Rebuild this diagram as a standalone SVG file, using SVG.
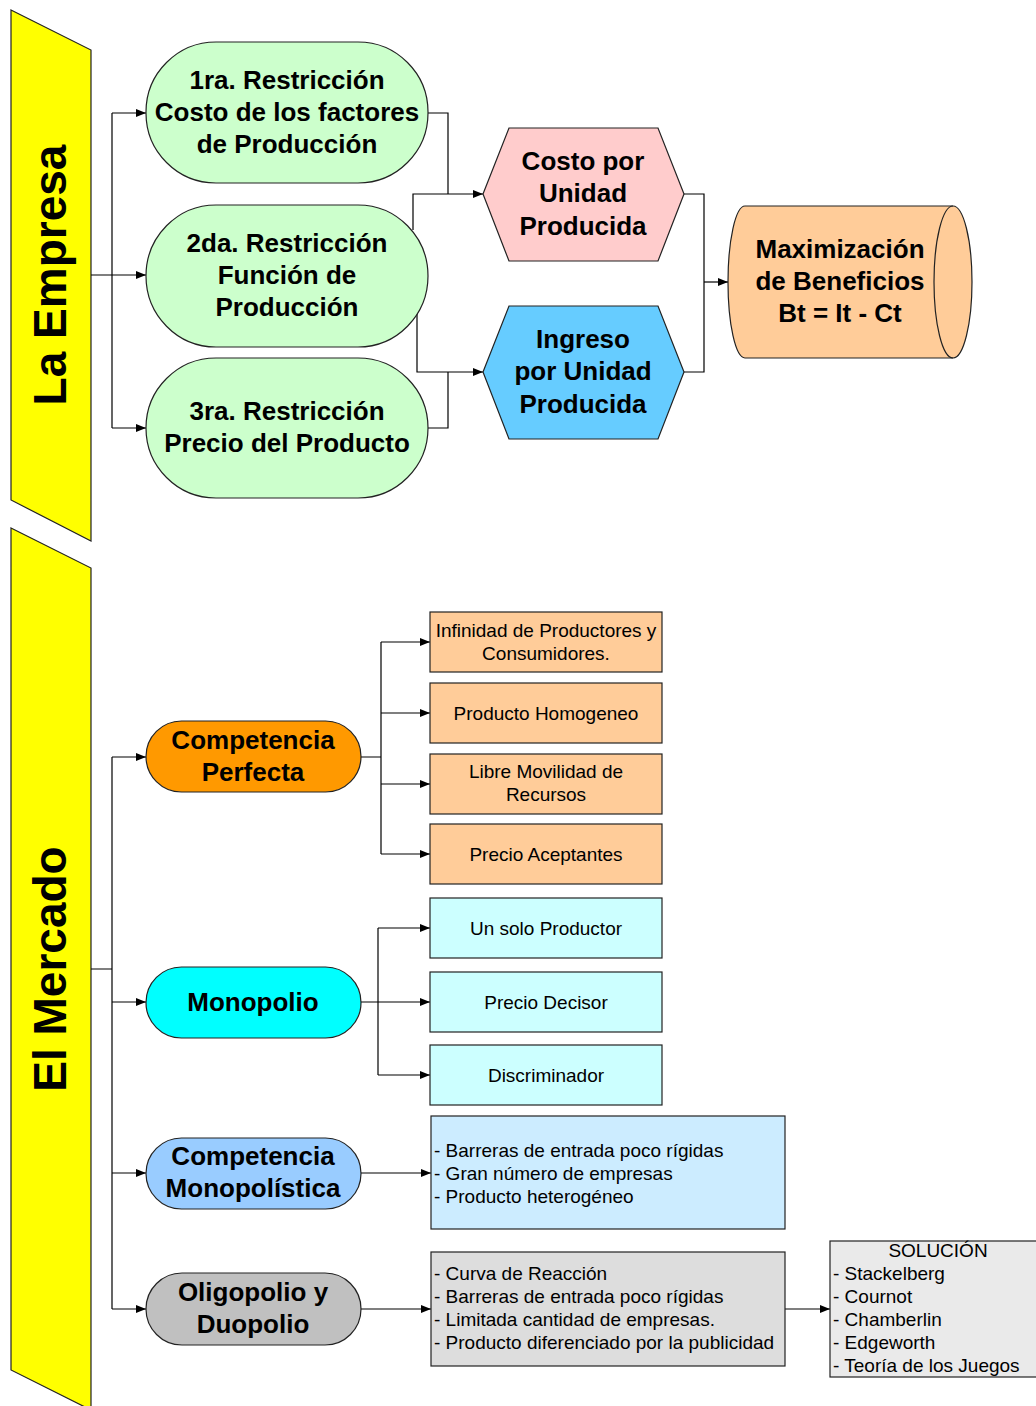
<svg xmlns="http://www.w3.org/2000/svg" width="1036" height="1406" viewBox="0 0 1036 1406">
<defs>
<marker id="arr" viewBox="0 0 10 10" refX="10" refY="5" markerWidth="10" markerHeight="10" markerUnits="userSpaceOnUse" orient="auto">
<path d="M0,1 L10,5 L0,9 Z" fill="#000"/>
</marker>
</defs>
<style>
.sh{stroke:#222;stroke-width:1.2}
.big{font-family:"Liberation Sans",Arial,sans-serif;font-weight:bold;font-size:26px;text-anchor:middle;fill:#000}
.ban{font-family:"Liberation Sans",Arial,sans-serif;font-weight:bold;font-size:46px;text-anchor:middle;fill:#000}
.sm{font-family:"Liberation Sans",Arial,sans-serif;font-size:19px;fill:#000}
.c{text-anchor:middle}
.ln{fill:none;stroke:#000;stroke-width:1.2}
</style>
<rect width="1036" height="1406" fill="#fff"/>

<g id="banner-empresa">
<polygon class="sh" points="11,10 91,50 91,541 11,500" fill="#FFFF00"/>
<text class="ban" transform="translate(50,275) rotate(-90)" x="0" y="16">La Empresa</text>
</g>
<g id="banner-mercado">
<polygon class="sh" points="11,528 91,568 91,1410 11,1370" fill="#FFFF00"/>
<text class="ban" transform="translate(50,969) rotate(-90)" x="0" y="16">El Mercado</text>
</g>

<g id="connectors">
<path class="ln" d="M91,275 H112 M112,113 V428"/>
<path class="ln" d="M112,113 H146" marker-end="url(#arr)"/>
<path class="ln" d="M112,275 H146" marker-end="url(#arr)"/>
<path class="ln" d="M112,428 H146" marker-end="url(#arr)"/>
<path class="ln" d="M428,113 H448 V194"/>
<path class="ln" d="M413,230 V194 H483" marker-end="url(#arr)"/>
<path class="ln" d="M428,428 H448 V372"/>
<path class="ln" d="M417,313 V372 H483" marker-end="url(#arr)"/>
<path class="ln" d="M684,194 H704 V372 H684"/>
<path class="ln" d="M704,282 H728" marker-end="url(#arr)"/>

<path class="ln" d="M91,969 H112 M112,757 V1309"/>
<path class="ln" d="M112,757 H146" marker-end="url(#arr)"/>
<path class="ln" d="M112,1002 H146" marker-end="url(#arr)"/>
<path class="ln" d="M112,1173 H146" marker-end="url(#arr)"/>
<path class="ln" d="M112,1309 H146" marker-end="url(#arr)"/>

<path class="ln" d="M361,757 H381 M381,642 V854"/>
<path class="ln" d="M381,642 H430" marker-end="url(#arr)"/>
<path class="ln" d="M381,713 H430" marker-end="url(#arr)"/>
<path class="ln" d="M381,784 H430" marker-end="url(#arr)"/>
<path class="ln" d="M381,854 H430" marker-end="url(#arr)"/>

<path class="ln" d="M378,928 V1075"/>
<path class="ln" d="M378,928 H430" marker-end="url(#arr)"/>
<path class="ln" d="M361,1002 H430" marker-end="url(#arr)"/>
<path class="ln" d="M378,1075 H430" marker-end="url(#arr)"/>

<path class="ln" d="M361,1173 H431" marker-end="url(#arr)"/>
<path class="ln" d="M361,1309 H431" marker-end="url(#arr)"/>
<path class="ln" d="M785,1309 H830" marker-end="url(#arr)"/>
</g>

<g id="restriccion1">
<rect class="sh" x="146" y="42" width="282" height="141" rx="70" ry="70" fill="#CCFFCC"/>
<text class="big" x="287" y="89">1ra. Restricción</text>
<text class="big" x="287" y="121">Costo de los factores</text>
<text class="big" x="287" y="153">de Producción</text>
</g>
<g id="restriccion2">
<rect class="sh" x="146" y="205" width="282" height="142" rx="70" ry="71" fill="#CCFFCC"/>
<text class="big" x="287" y="252">2da. Restricción</text>
<text class="big" x="287" y="284">Función de</text>
<text class="big" x="287" y="316">Producción</text>
</g>
<g id="restriccion3">
<rect class="sh" x="146" y="358" width="282" height="140" rx="70" ry="70" fill="#CCFFCC"/>
<text class="big" x="287" y="420">3ra. Restricción</text>
<text class="big" x="287" y="452">Precio del Producto</text>
</g>

<g id="costo-unidad">
<polygon class="sh" points="483,194 509,128 658,128 684,194 658,261 509,261" fill="#FFCCCC"/>
<text class="big" x="583" y="170">Costo por</text>
<text class="big" x="583" y="202">Unidad</text>
<text class="big" x="583" y="235">Producida</text>
</g>
<g id="ingreso-unidad">
<polygon class="sh" points="483,372 509,306 658,306 684,372 658,439 509,439" fill="#66CCFF"/>
<text class="big" x="583" y="348">Ingreso</text>
<text class="big" x="583" y="380">por Unidad</text>
<text class="big" x="583" y="413">Producida</text>
</g>
<g id="maximizacion">
<path class="sh" d="M745,206 L953,206 A19,76 0 0 1 953,358 L745,358 A17,76 0 0 1 745,206 Z" fill="#FFCC99"/>
<path class="sh" d="M953,206 A19,76 0 0 0 953,358" fill="none"/>
<text class="big" x="840" y="258">Maximización</text>
<text class="big" x="840" y="290">de Beneficios</text>
<text class="big" x="840" y="322">Bt = It - Ct</text>
</g>

<g id="competencia-perfecta">
<rect class="sh" x="146" y="721" width="215" height="71" rx="35.5" ry="35.5" fill="#FF9900"/>
<text class="big" x="253" y="749">Competencia</text>
<text class="big" x="253" y="781">Perfecta</text>
</g>
<g id="cp1"><rect class="sh" x="430" y="612" width="232" height="60" fill="#FFCC99"/>
<text class="sm c" x="546" y="637">Infinidad de Productores y</text>
<text class="sm c" x="546" y="660">Consumidores.</text></g>
<g id="cp2"><rect class="sh" x="430" y="683" width="232" height="60" fill="#FFCC99"/>
<text class="sm c" x="546" y="720">Producto Homogeneo</text></g>
<g id="cp3"><rect class="sh" x="430" y="754" width="232" height="60" fill="#FFCC99"/>
<text class="sm c" x="546" y="778">Libre Movilidad de</text>
<text class="sm c" x="546" y="801">Recursos</text></g>
<g id="cp4"><rect class="sh" x="430" y="824" width="232" height="60" fill="#FFCC99"/>
<text class="sm c" x="546" y="861">Precio Aceptantes</text></g>

<g id="monopolio">
<rect class="sh" x="146" y="967" width="215" height="71" rx="35.5" ry="35.5" fill="#00FFFF"/>
<text class="big" x="253" y="1011">Monopolio</text>
</g>
<g id="m1"><rect class="sh" x="430" y="898" width="232" height="60" fill="#CCFFFF"/>
<text class="sm c" x="546" y="935">Un solo Productor</text></g>
<g id="m2"><rect class="sh" x="430" y="972" width="232" height="60" fill="#CCFFFF"/>
<text class="sm c" x="546" y="1009">Precio Decisor</text></g>
<g id="m3"><rect class="sh" x="430" y="1045" width="232" height="60" fill="#CCFFFF"/>
<text class="sm c" x="546" y="1082">Discriminador</text></g>

<g id="competencia-monopolistica">
<rect class="sh" x="146" y="1138" width="215" height="71" rx="35.5" ry="35.5" fill="#99CCFF"/>
<text class="big" x="253" y="1165">Competencia</text>
<text class="big" x="253" y="1197">Monopolística</text>
</g>
<g id="cm-caract"><rect class="sh" x="431" y="1116" width="354" height="113" fill="#CCECFF"/>
<text class="sm" x="434" y="1157">- Barreras de entrada poco rígidas</text>
<text class="sm" x="434" y="1180">- Gran número de empresas</text>
<text class="sm" x="434" y="1203">- Producto heterogéneo</text></g>

<g id="oligopolio">
<rect class="sh" x="146" y="1273" width="215" height="72" rx="36" ry="36" fill="#C0C0C0"/>
<text class="big" x="253" y="1301">Oligopolio y</text>
<text class="big" x="253" y="1333">Duopolio</text>
</g>
<g id="ol-caract"><rect class="sh" x="431" y="1252" width="354" height="114" fill="#DDDDDD"/>
<text class="sm" x="434" y="1280">- Curva de Reacción</text>
<text class="sm" x="434" y="1303">- Barreras de entrada poco rígidas</text>
<text class="sm" x="434" y="1326">- Limitada cantidad de empresas.</text>
<text class="sm" x="434" y="1349">- Producto diferenciado por la publicidad</text></g>

<g id="solucion"><rect class="sh" x="830" y="1241" width="220" height="136" fill="#EAEAEA"/>
<text class="sm c" x="938" y="1257">SOLUCIÓN</text>
<text class="sm" x="833" y="1280">- Stackelberg</text>
<text class="sm" x="833" y="1303">- Cournot</text>
<text class="sm" x="833" y="1326">- Chamberlin</text>
<text class="sm" x="833" y="1349">- Edgeworth</text>
<text class="sm" x="833" y="1372">- Teoría de los Juegos</text></g>
</svg>
